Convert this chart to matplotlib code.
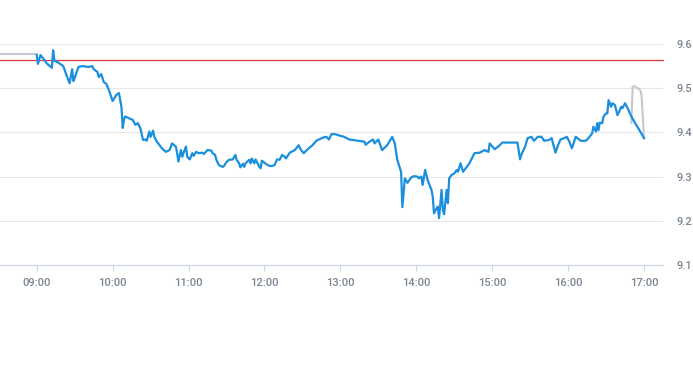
import matplotlib
matplotlib.use("Agg")
import matplotlib.pyplot as plt
import matplotlib.dates as mdates
import pandas as pd

# intraday price, minutes after 09:00 open
minute = [0, 1, 3, 6, 8, 12, 13, 14, 17, 21, 24, 26, 28, 29, 30, 33, 36, 41, 44, 45,
          48, 49, 51, 53, 55, 57, 60, 63, 65, 67, 68,
          69, 70, 73, 76, 78, 80, 82, 84, 86, 87, 89, 90, 92, 93, 95, 99, 102, 105, 107,
          110, 111, 112, 114, 115, 116, 118, 119, 121, 123, 124, 126, 128, 131, 132, 135,
          138, 139, 141, 142, 144, 147, 148,
          150, 152, 155, 157, 158, 160, 161, 163, 164, 165, 168, 169, 170, 172, 173, 176,
          177, 178, 181, 184, 186, 188, 190, 192, 194, 196, 197, 200, 204, 207, 209, 211,
          215, 218, 221, 223,
          227, 229, 231, 233, 236, 239, 243, 247, 254, 259, 260, 263, 266, 267, 270, 273,
          277, 281, 283, 285, 288, 289, 291, 293, 296, 298,
          301, 302, 304, 305, 307, 309, 312, 313, 314, 316, 317, 318, 320, 321, 322, 324,
          325, 326, 328, 330, 332, 333, 335, 337, 342, 346, 350, 354, 357, 358, 362, 366,
          368, 372, 376, 380, 382, 383, 386, 388, 391, 393, 396, 399, 401, 405, 407, 410,
          412, 414, 417, 419, 421, 423, 426, 430, 434, 436, 438,
          439, 440, 442, 443, 444, 445, 447, 448, 450, 451, 452, 454, 455, 457, 458, 459,
          461, 462, 463, 465, 467, 470, 473, 477, 480]
price = [9.575, 9.555, 9.575, 9.564, 9.556, 9.546, 9.586, 9.562, 9.558, 9.550, 9.526,
         9.511, 9.543, 9.516, 9.523, 9.548, 9.550, 9.548, 9.550, 9.543,
         9.537, 9.525, 9.532, 9.514, 9.510, 9.496, 9.471, 9.485, 9.489, 9.457, 9.410,
         9.430, 9.436, 9.432, 9.428, 9.417, 9.421, 9.409, 9.383, 9.384, 9.381, 9.402,
         9.390, 9.404, 9.390, 9.379, 9.364, 9.356, 9.360, 9.375,
         9.368, 9.353, 9.334, 9.360, 9.345, 9.353, 9.368, 9.345, 9.339, 9.353, 9.347,
         9.356, 9.353, 9.354, 9.351, 9.360,
         9.359, 9.353, 9.349, 9.338, 9.326, 9.322, 9.324,
         9.333, 9.338, 9.339, 9.349, 9.338, 9.330, 9.321, 9.329, 9.322, 9.330, 9.338,
         9.330, 9.341, 9.330, 9.339, 9.322,
         9.319, 9.336, 9.329, 9.324, 9.324, 9.326, 9.339, 9.338, 9.349, 9.345, 9.341,
         9.354, 9.360, 9.371, 9.360, 9.353,
         9.364, 9.371, 9.381, 9.384,
         9.389, 9.390, 9.384, 9.396, 9.396, 9.393, 9.390, 9.384, 9.381, 9.379, 9.372,
         9.379, 9.384, 9.375, 9.384, 9.360,
         9.371, 9.390, 9.375, 9.338, 9.311, 9.231, 9.296, 9.286, 9.298, 9.301,
         9.300, 9.296, 9.300, 9.281, 9.315, 9.292, 9.270, 9.255, 9.217, 9.228, 9.232,
         9.206, 9.270, 9.224, 9.215, 9.270,
         9.240, 9.296, 9.304, 9.307, 9.315, 9.311, 9.330, 9.311, 9.330, 9.353, 9.354,
         9.360, 9.356, 9.375, 9.362, 9.371,
         9.377, 9.377, 9.377, 9.377, 9.339, 9.349, 9.368, 9.387, 9.390, 9.381, 9.390,
         9.390, 9.381, 9.383, 9.387, 9.354,
         9.371, 9.384, 9.387, 9.390, 9.379, 9.364, 9.390, 9.381, 9.381, 9.387, 9.394,
         9.398, 9.413, 9.402, 9.421, 9.405, 9.422, 9.421, 9.436, 9.443, 9.443, 9.473,
         9.458, 9.466, 9.462, 9.451, 9.439,
         9.451, 9.458, 9.455, 9.466, 9.455, 9.436, 9.421, 9.402, 9.387]

# pre-market and after-hours segments (grey)
pre_minute = [-29, 0]
pre_price = [9.577, 9.577]
post_minute = [470, 471, 472, 475, 477, 478, 480]
post_price = [9.421, 9.503, 9.505, 9.500, 9.496, 9.485, 9.387]

prev_close = 9.563
yticks = [9.1, 9.2, 9.3, 9.4, 9.5, 9.6]

day_open = pd.Timestamp("2024-01-02 09:00")
t = day_open + pd.to_timedelta(minute, unit="min")
t_pre = day_open + pd.to_timedelta(pre_minute, unit="min")
t_post = day_open + pd.to_timedelta(post_minute, unit="min")

plt.rcParams["font.family"] = ["Roboto", "DejaVu Sans"]

fig = plt.figure(figsize=(6.93, 3.65), dpi=100)
ax = fig.add_axes([0, 100 / 365, 663 / 693, 221 / 365])

ax.axhline(prev_close, color="#d9363e", lw=0.9, zorder=2)
ax.plot(t_pre, pre_price, color="#c4c9d1", lw=1.5, zorder=3)
ax.plot(t_post, post_price, color="#c4c9d1", lw=1.5, zorder=3)
ax.plot(t, price, color="#1a8fdd", lw=1.6, zorder=4)

ax.set_xlim(day_open - pd.Timedelta(minutes=29), day_open + pd.Timedelta(minutes=495))
ax.set_ylim(9.1, 9.6)

ax.xaxis.set_major_locator(mdates.HourLocator())
ax.xaxis.set_major_formatter(mdates.DateFormatter("%H:%M"))
ax.set_yticks(yticks)
ax.set_yticklabels([f"{v:.1f}" for v in yticks])
ax.yaxis.tick_right()

ax.grid(axis="y", color="#e6e6e6", lw=0.8)
ax.set_axisbelow(True)
for s in ["top", "left", "right"]:
    ax.spines[s].set_visible(False)
ax.spines["bottom"].set_color("#ccd6eb")
ax.spines["bottom"].set_linewidth(0.8)

ax.tick_params(axis="x", colors="#ccd6eb", length=4, width=0.8, pad=5,
               labelcolor="#7a8594", labelsize=8)
ax.tick_params(axis="y", length=0, pad=10, labelcolor="#7a8594", labelsize=8)
for lab in ax.get_xticklabels() + ax.get_yticklabels():
    lab.set_fontweight("medium")

for line in ax.lines:
    line.set_clip_on(False)

fig.savefig("out.png", dpi=100)
